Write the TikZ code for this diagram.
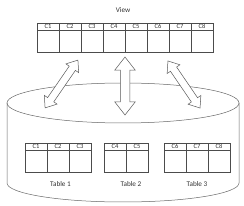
\documentclass[tikz,border=0pt]{standalone}
\usepackage{fontspec}
\setmainfont{Carlito}
\usetikzlibrary{positioning, shapes.arrows}

\tikzset{
  hcell/.style={draw=black!70, minimum width=22pt, minimum height=7pt, inner sep=0pt,
    font=\fontsize{6.5}{6.5}\selectfont, text=black!80},
  bcell/.style={draw=black!70, minimum width=22pt, minimum height=21.5pt, inner sep=0pt},
  dbarrow/.style={double arrow, draw=black!65, fill=white, inner sep=0pt,
    double arrow tip angle=76, double arrow head indent=0pt},
  lbl/.style={font=\fontsize{7.2}{8}\selectfont, text=black!80}
}

\begin{document}
\begin{tikzpicture}[x=1pt, y=1pt, line width=0.5pt]
    \useasboundingbox (0,0) rectangle (244,206);

    % 1. Khối trụ (cơ sở dữ liệu)
    \draw[black!60] (7,103) -- (7,23) arc[start angle=180, end angle=360, x radius=116pt, y radius=19pt] -- (239,103);
    \draw[black!60] (123,103) ellipse[x radius=116pt, y radius=20pt];

    % 2. Bảng View phía trên
    \node[lbl] (viewlbl) at (123,196) {View};
    \foreach \i in {1,...,8} {
        \node[hcell] (vh\i) at ({26+22*\i},179.5) {C\i};
        \node[bcell, below=0pt of vh\i] (vb\i) {};
    }

    % 3. Ba bảng bên trong khối trụ
    \foreach \i in {1,2,3} {
        \node[hcell] (ta\i) at ({14+22*\i},59.5) {C\i};
        \node[bcell, below=0pt of ta\i] (tab\i) {};
    }
    \foreach \i/\x in {4/115, 5/137} {
        \node[hcell] (tb\i) at (\x,59.5) {C\i};
        \node[bcell, below=0pt of tb\i] (tbb\i) {};
    }
    \foreach \i/\x in {6/175, 7/197, 8/219} {
        \node[hcell] (tc\i) at (\x,59.5) {C\i};
        \node[bcell, below=0pt of tc\i] (tcb\i) {};
    }
    \node[lbl] (lbl1) at (60.5,22) {Table 1};
    \node[lbl] (lbl2) at (131,22) {Table 2};
    \node[lbl] (lbl3) at (197,22) {Table 3};

    % 4. Mũi tên hai chiều
    \node[dbarrow, minimum height=58pt, double arrow head extend=4pt, rotate=55.5] (arrL) at (61.5,122) {\rule{0pt}{7pt}};
    \node[dbarrow, minimum height=58pt, double arrow head extend=5.5pt, rotate=90] (arrM) at (125,120) {\rule{0pt}{9pt}};
    \node[dbarrow, minimum height=57pt, double arrow head extend=4pt, rotate=-55.7] (arrR) at (184,121.5) {\rule{0pt}{7pt}};

\end{tikzpicture}
\end{document}
